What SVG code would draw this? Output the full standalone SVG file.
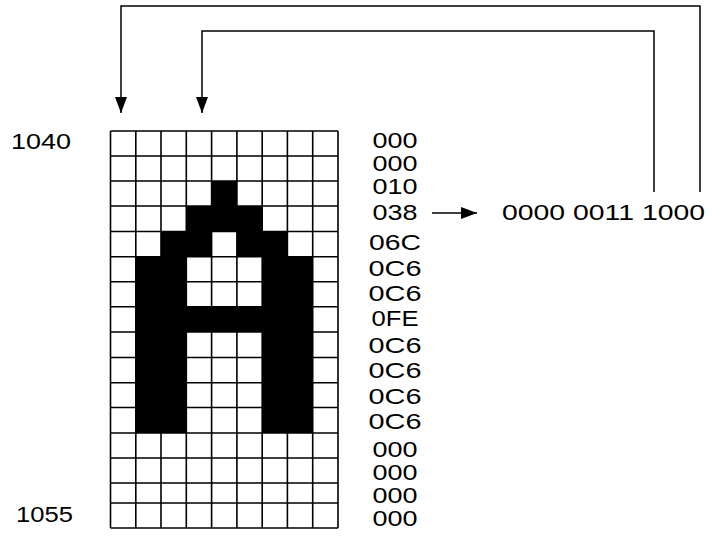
<svg xmlns="http://www.w3.org/2000/svg" width="717" height="538" viewBox="0 0 717 538">
<defs>
<marker id="ah" viewBox="0 0 16 12" refX="16" refY="6" markerWidth="16" markerHeight="12" markerUnits="userSpaceOnUse" orient="auto">
<path d="M0,0 L16,6 L0,12 Z" fill="#000"/>
</marker>
<style>
.t{font-family:"Liberation Sans",Arial,Helvetica,sans-serif;font-size:22px;fill:#000}
.h{text-anchor:middle}
.g{stroke:#000;stroke-width:1.6;fill:none}
.c{stroke:#000;stroke-width:1.5;fill:none}
</style>
</defs>
<rect width="717" height="538" fill="#fff"/>
<g id="bitmap">
<g fill="#000">
<rect x="211.6" y="181" width="25.3" height="25"/>
<rect x="186.3" y="206" width="75.9" height="25.5"/>
<rect x="161" y="231.5" width="50.6" height="25.2"/>
<rect x="236.9" y="231.5" width="50.5" height="25.2"/>
<rect x="135.8" y="256.7" width="50.5" height="176.3"/>
<rect x="262.2" y="256.7" width="50.5" height="176.3"/>
<rect x="135.8" y="306.7" width="176.9" height="25.3"/>
</g>
<path class="g" d="M110.5,131V528M135.8,131V528M161,131V528M186.3,131V528M211.6,131V528M236.9,131V528M262.2,131V528M287.4,131V528M312.7,131V528M338,131V528M110.5,131H338M110.5,156H338M110.5,181H338M110.5,206H338M110.5,231.5H338M110.5,256.7H338M110.5,281.7H338M110.5,306.7H338M110.5,332H338M110.5,357.5H338M110.5,382.7H338M110.5,407.5H338M110.5,433H338M110.5,458H338M110.5,483H338M110.5,503H338M110.5,528H338"/>
</g>
<g id="addresses">
<text class="t" x="11" y="149" font-size="24" textLength="60" lengthAdjust="spacingAndGlyphs">1040</text>
<text class="t" x="16" y="522" font-size="24" textLength="57" lengthAdjust="spacingAndGlyphs">1055</text>
</g>
<g id="hex">
<text class="t h" x="395" y="148" textLength="45" lengthAdjust="spacingAndGlyphs">000</text>
<text class="t h" x="395" y="171" textLength="45" lengthAdjust="spacingAndGlyphs">000</text>
<text class="t h" x="395" y="194" textLength="45" lengthAdjust="spacingAndGlyphs">010</text>
<text class="t h" x="395" y="220" textLength="45" lengthAdjust="spacingAndGlyphs">038</text>
<text class="t h" x="395" y="250" textLength="52" lengthAdjust="spacingAndGlyphs">06C</text>
<text class="t h" x="395" y="276" textLength="53" lengthAdjust="spacingAndGlyphs">0C6</text>
<text class="t h" x="395" y="301" textLength="53" lengthAdjust="spacingAndGlyphs">0C6</text>
<text class="t h" x="395" y="326" textLength="47" lengthAdjust="spacingAndGlyphs">0FE</text>
<text class="t h" x="395" y="353" textLength="53" lengthAdjust="spacingAndGlyphs">0C6</text>
<text class="t h" x="395" y="378" textLength="53" lengthAdjust="spacingAndGlyphs">0C6</text>
<text class="t h" x="395" y="404" textLength="53" lengthAdjust="spacingAndGlyphs">0C6</text>
<text class="t h" x="395" y="429" textLength="53" lengthAdjust="spacingAndGlyphs">0C6</text>
<text class="t h" x="395" y="457" textLength="45" lengthAdjust="spacingAndGlyphs">000</text>
<text class="t h" x="395" y="480" textLength="45" lengthAdjust="spacingAndGlyphs">000</text>
<text class="t h" x="395" y="503" textLength="45" lengthAdjust="spacingAndGlyphs">000</text>
<text class="t h" x="395" y="526" textLength="45" lengthAdjust="spacingAndGlyphs">000</text>
</g>
<g id="binary">
<text class="t" x="502" y="220" textLength="203" lengthAdjust="spacingAndGlyphs">0000 0011 1000</text>
</g>
<g id="connectors">
<path class="c" d="M432,213H477" marker-end="url(#ah)"/>
<path class="c" d="M654,192V31H202V113" marker-end="url(#ah)"/>
<path class="c" d="M700,192V6H121V113" marker-end="url(#ah)"/>
</g>
</svg>
